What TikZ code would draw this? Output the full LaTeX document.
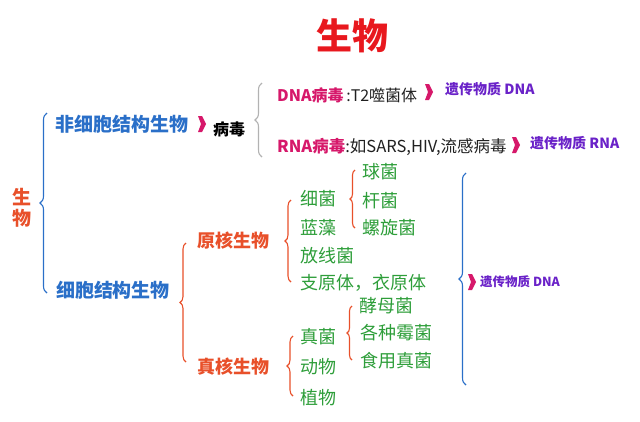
\documentclass[tikz,border=0pt]{standalone}
\usepackage{fontspec}
\setmainfont{Noto Sans CJK SC}
\usetikzlibrary{decorations.pathreplacing}
\definecolor{tred}{HTML}{E8181E}
\definecolor{bl}{HTML}{2A6FC8}
\definecolor{ored}{HTML}{E8502A}
\definecolor{gr}{HTML}{2E9E3A}
\definecolor{mg}{HTML}{D6186A}
\definecolor{pu}{HTML}{6A22C8}
\definecolor{dk}{HTML}{202020}
\begin{document}
\begin{tikzpicture}[x=1pt,y=-1pt,
  every node/.style={inner sep=0pt},
  f/.style={font=\fontsize{#1}{#1}\selectfont},
  br/.style={decorate,decoration={brace,amplitude=#1},line width=1.1pt},
]
\useasboundingbox (0,0) rectangle (640,421);
\newcommand\myarr[2]{\fill[mg] (#1-3,#2-8) -- (#1+1,#2-8) -- (#1+5,#2) -- (#1+1,#2+8) -- (#1-3,#2+8) -- (#1,#2) -- cycle;}
\node[f=36,text=tred] (title) at (352,36) {\bfseries 生物};
\node[f=19,text=ored,align=center] (root) at (22,208) {\bfseries 生\\[2pt]\bfseries 物};
\draw[br=7pt,bl] (47,293) -- (47,113);
\node[f=19,text=bl] (nc) at (122,124) {\bfseries 非细胞结构生物};
\myarr{201}{124}
\node[f=16,text=black] (virus) at (229,129) {\bfseries 病毒};
\draw[br=7pt,gray!60] (262,157) -- (262,83);
\node[f=16,anchor=west] (dna) at (277,95) {\textcolor{mg}{\bfseries DNA病毒}\textcolor{dk}{\,:T2噬菌体}};
\myarr{428}{92}
\node[f=14,anchor=west,text=pu] (dnag) at (445,89) {\bfseries 遗传物质 DNA};
\node[f=16.5,anchor=west] (rna) at (277,147) {\textcolor{mg}{\bfseries RNA病毒}\textcolor{dk}{:如SARS,HIV,流感病毒}};
\myarr{515}{145}
\node[f=14,anchor=west,text=pu] (rnag) at (530,143) {\bfseries 遗传物质 RNA};
\node[f=19,text=bl] (cs) at (113,290) {\bfseries 细胞结构生物};
\draw[br=6pt,ored] (186,362) -- (186,243);
\node[f=18,text=ored] (pro) at (233,241) {\bfseries 原核生物};
\node[f=18,text=ored] (euk) at (233,367) {\bfseries 真核生物};
\draw[br=6pt,ored] (291,282) -- (291,200);
\node[f=18,text=gr] (b1) at (318,199) {细菌};
\node[f=18,text=gr] (b2) at (318,228) {蓝藻};
\node[f=18,text=gr] (b3) at (327,256) {放线菌};
\node[f=18,text=gr,anchor=west] (b4) at (300,283) {支原体，衣原体};
\draw[br=5pt,ored] (355,228) -- (355,170);
\node[f=18,text=gr] (c1) at (380,172) {球菌};
\node[f=18,text=gr] (c2) at (380,201) {杆菌};
\node[f=18,text=gr] (c3) at (389,228) {螺旋菌};
\draw[br=6pt,ored] (293,396) -- (293,336);
\node[f=18,text=gr] (e1) at (318,337) {真菌};
\node[f=18,text=gr] (e2) at (318,367) {动物};
\node[f=18,text=gr] (e3) at (318,398) {植物};
\draw[br=5pt,ored] (352,360) -- (352,306);
\node[f=18,text=gr] (f1) at (386,306) {酵母菌};
\node[f=18,text=gr] (f2) at (396,333) {各种霉菌};
\node[f=18,text=gr] (f3) at (396,361) {食用真菌};
\draw[br=7pt,bl] (466,385) -- (466,173);
\myarr{471}{282}
\node[f=12.5,anchor=west,text=pu] (cg) at (480,282) {\bfseries 遗传物质 DNA};
\end{tikzpicture}
\end{document}
